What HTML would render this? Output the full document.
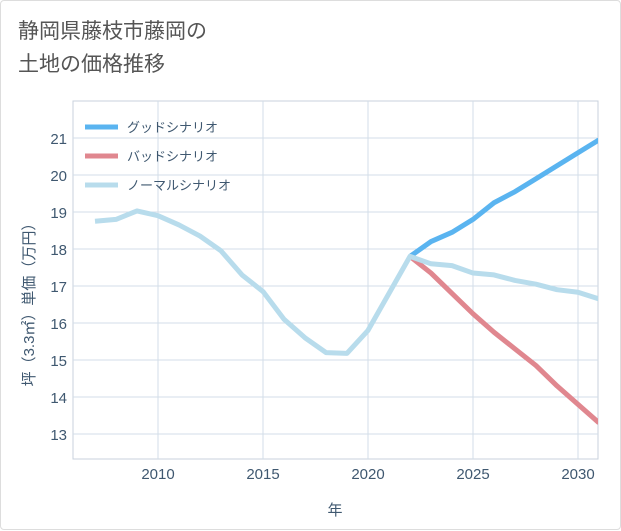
<!DOCTYPE html>
<html><head><meta charset="utf-8"><style>
body{margin:0;background:#fff;font-family:"Liberation Sans","Noto Sans CJK JP",sans-serif;}
#wrap{position:relative;width:619px;height:528px;border:1px solid #ddd;border-radius:4px;}
#title{position:absolute;left:17px;top:14px;font-size:21px;line-height:33px;color:#555;}
svg{position:absolute;left:0;top:0}
</style></head><body>
<div id="wrap">
<div id="title">静岡県藤枝市藤岡の<br>土地の価格推移</div>
<svg id="chart" width="621" height="530"></svg>
</div>
<script>
const years=[2007,2008,2009,2010,2011,2012,2013,2014,2015,2016,2017,2018,2019,2020,2021,2022,2023,2024,2025,2026,2027,2028,2029,2030,2031];
const normalValues=[18.75,18.8,19.03,18.9,18.65,18.35,17.95,17.3,16.85,16.1,15.6,15.2,15.18,15.8,16.8,17.8,17.6,17.55,17.35,17.3,17.15,17.05,16.9,16.83,16.65];
const futureYears=[2022,2023,2024,2025,2026,2027,2028,2029,2030,2031];
const goodValues=[17.8,18.2,18.45,18.8,19.25,19.55,19.9,20.25,20.6,20.95];
const badValues=[17.8,17.35,16.8,16.25,15.75,15.3,14.85,14.3,13.8,13.3];
const xTicks=[2010,2015,2020,2025,2030];
const yTicks=[13,14,15,16,17,18,19,20,21];
const L=72,R=597,T=100,B=458;
const TXT='#3f5870';
const x=v=>157+(v-2010)*21;
const y=v=>433-(v-13)*37;
const NS="http://www.w3.org/2000/svg";
const svg=document.getElementById('chart');
function mk(t,a){const e=document.createElementNS(NS,t);for(const k in a)e.setAttribute(k,a[k]);svg.appendChild(e);return e;}
const bg=mk('rect',{x:L,y:T,width:R-L,height:B-T,fill:'#fff',stroke:'#c8d2dc'});


xTicks.forEach(t=>{
 const g=mk('line',{x1:x(t),x2:x(t),y1:T,y2:B,stroke:'#d3dde8'});
 
 
 const tx=mk('text',{x:x(t),y:B+20,'text-anchor':'middle','font-size':15,fill:TXT});
 tx.textContent=t;
 
 
});
yTicks.forEach(t=>{
 const g=mk('line',{x1:L,x2:R,y1:y(t),y2:y(t),stroke:'#d3dde8'});
 
 
 const tx=mk('text',{x:L-6,y:y(t)+6,'text-anchor':'end','font-size':15,fill:TXT});
 tx.textContent=t;
 
 
});
const xt=mk('text',{x:334,y:514,'text-anchor':'middle','font-size':15,fill:TXT});
xt.textContent='年';


const yt=mk('text',{x:0,y:0,'text-anchor':'middle','font-size':15,fill:TXT,transform:'translate(33,300) rotate(-90)'});
yt.textContent='坪（3.3㎡）単価（万円）';


const clip=mk('clipPath',{id:'c'});
const cr=document.createElementNS(NS,'rect');cr.setAttribute('x',L);cr.setAttribute('y',T);cr.setAttribute('width',R-L);cr.setAttribute('height',B-T);clip.appendChild(cr);
function line(xs,vs,color,name){
 const p=mk('path',{d:xs.map((v,i)=>(i?'L':'M')+x(v)+','+y(vs[i])).join(''),fill:'none',stroke:color,'stroke-width':5,'stroke-linejoin':'round','clip-path':'url(#c)'});
 
 
}
line(futureYears,goodValues,'#5ab4f0','good-scenario-line');
line(futureYears,badValues,'#e0878f','bad-scenario-line');
line(years,normalValues,'#b8dcec','normal-scenario-line');
const leg=[['グッドシナリオ','#5ab4f0'],['バッドシナリオ','#e0878f'],['ノーマルシナリオ','#b8dcec']];
leg.forEach((l,i)=>{
 const yy=126+i*29;
 const s=mk('line',{x1:84,x2:117,y1:yy,y2:yy,stroke:l[1],'stroke-width':5});
 
 
 const t=mk('text',{x:126,y:yy+5,'font-size':13,fill:TXT});
 t.textContent=l[0];
 
 
});
</script>
</body></html>
